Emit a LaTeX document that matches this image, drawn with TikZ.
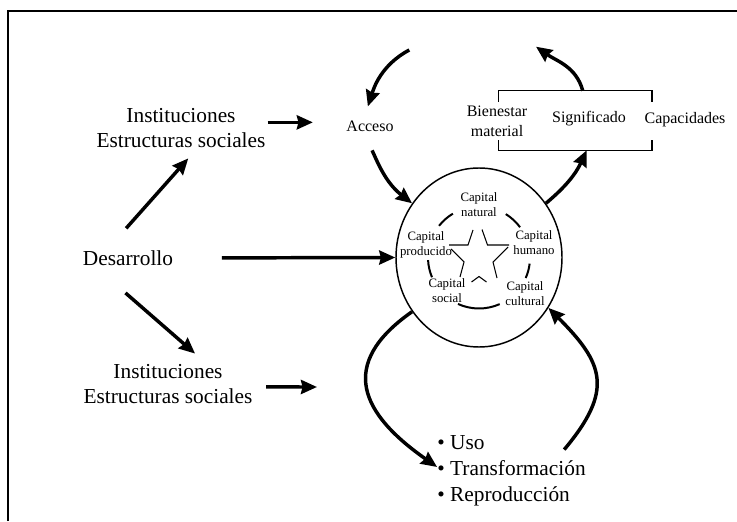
\documentclass[tikz,border=0pt]{standalone}
\usepackage{fontspec}
\setmainfont{Liberation Serif}
\usetikzlibrary{arrows.meta,shapes.geometric}

\tikzset{
  arr/.style={line width=2.6pt,-{Stealth[length=12pt,width=10.5pt,inset=1.2pt]}},
  big/.style={font=\fontsize{16}{18.75}\selectfont,inner sep=0pt,align=center},
  mid/.style={font=\fontsize{12}{15}\selectfont,inner sep=0pt,align=center},
  caplabel/.style={font=\fontsize{9.6}{11.25}\selectfont,inner sep=0pt,align=center},
}

\begin{document}
\begin{tikzpicture}[x=0.75pt,y=0.75pt]
  \useasboundingbox (0,0) rectangle (737,521);
  %% Frame
  \draw[line width=1.1pt] (8,0) -- (8,510) -- (737,510);
  %% Left side
  \node[big] (desa) at (128,263) {Desarrollo};
  \node[big] (inst1) at (181,392.5) {Instituciones\\Estructuras sociales};
  \node[big] (inst2) at (168,137) {Instituciones\\Estructuras sociales};
  %% Capital
  \node[draw,ellipse,line width=1.1pt,inner sep=0pt,minimum width=124.5pt,minimum height=134.25pt] (capital) at (479,263.5) {};
  \node[caplabel] (natural) at (479,316.5) {Capital\\natural};
  \node[caplabel] (producido) at (426,276) {Capital\\producido};
  \node[caplabel] (humano) at (534,278) {Capital\\humano};
  \node[caplabel] (social) at (447,230.5) {Capital\\social};
  \node[caplabel] (cultural) at (525,227.5) {Capital\\cultural};
  %% Ring and star
  \draw[line width=1.5pt] (capital.center) ++(58.3:51) arc[start angle=58.3,end angle=36.4,radius=51];
  \draw[line width=1.5pt] (capital.center) ++(120.8:51) arc[start angle=120.8,end angle=141.6,radius=51];
  \draw[line width=1.5pt] (capital.center) ++(182.9:51) arc[start angle=182.9,end angle=202.8,radius=51];
  \draw[line width=1.5pt] (capital.center) ++(-6.9:51) arc[start angle=-6.9,end angle=-23.7,radius=51];
  \draw[line width=1.5pt] (capital.center) ++(245.7:51) arc[start angle=245.7,end angle=293.9,radius=51];
  \draw[line width=0.8pt] (449,276) -- (468,276) -- (473,291);
  \draw[line width=0.8pt] (482,291.5) -- (487.5,276) -- (509,276);
  \draw[line width=0.8pt] (451,272) -- (464,259) -- (460,244);
  \draw[line width=0.8pt] (508,274) -- (493,259) -- (497,243);
  \draw[line width=0.8pt] (471.5,239) -- (479,244.5) -- (486.5,239);
  %% Top loop
  \node[mid] (acceso) at (370,395) {Acceso};
  \node[inner sep=0pt,minimum width=114.5pt,minimum height=44.25pt] (box) at (575.4,400.5) {};
  \draw[line width=0.8pt] ([yshift=-8.2pt]box.north west) -- (box.north west) -- (box.north east) -- ++(0,-11);
  \draw[line width=0.8pt] ([yshift=7.5pt]box.south west) -- (box.south west) -- (box.south east) -- ++(0,10);
  \node[mid] (bienestar) at (497,400) {Bienestar\\material};
  \node[mid] (significado) at (589,402) {Significado};
  \node[mid] (capacidades) at (685,401) {Capacidades};
  \coordinate (topin) at (409.3,471);
  \coordinate (topout) at (536,474.3);
  %% Bottom list
  \node[font=\fontsize{16}{19.4}\selectfont,inner sep=0pt,align=left] (list) at (511.5,50)
    {\textbullet\ Uso\\\textbullet\ Transformación\\\textbullet\ Reproducción};
  \coordinate (tolist) at (317,134);
  %% Arrows
  \draw[arr,shorten <=22pt,shorten >=10pt] (desa.160) -- (inst1.-51);
  \draw[arr,shorten <=36.5pt] (desa.east) -- (capital.west);
  \draw[arr,shorten <=31pt,shorten >=12pt] (desa.193) -- (inst2.27.7);
  \draw[arr,shorten <=1.5pt,shorten >=25pt] ([yshift=4.6pt]inst1.east) -- ([yshift=4.6pt]inst1.east -| acceso.west);
  \draw[arr,shorten <=10pt] ([yshift=-2.2pt]inst2.east) -- (tolist);
  \draw[arr,shorten >=11pt] (topin) to[out=208,in=72] ([xshift=-5pt]acceso.north);
  \draw[arr,shorten <=15.5pt] ([xshift=-5pt]acceso.south) to[out=-65,in=142] (capital.141);
  \draw[arr] (capital.39.6) to[out=40,in=245] ([xshift=8.5pt]box.south);
  \draw[arr] ([xshift=5.5pt]box.north) to[out=105,in=-35] (topout);
  \draw[arr] (capital.219.4) to[out=215,in=145,looseness=1.5] ([yshift=3pt]list.west);
  \draw[arr] ([xshift=-16.3pt,yshift=-10.5pt]list.north east) to[out=50,in=-45,looseness=1.4] (capital.-36.5);
\end{tikzpicture}
\end{document}
